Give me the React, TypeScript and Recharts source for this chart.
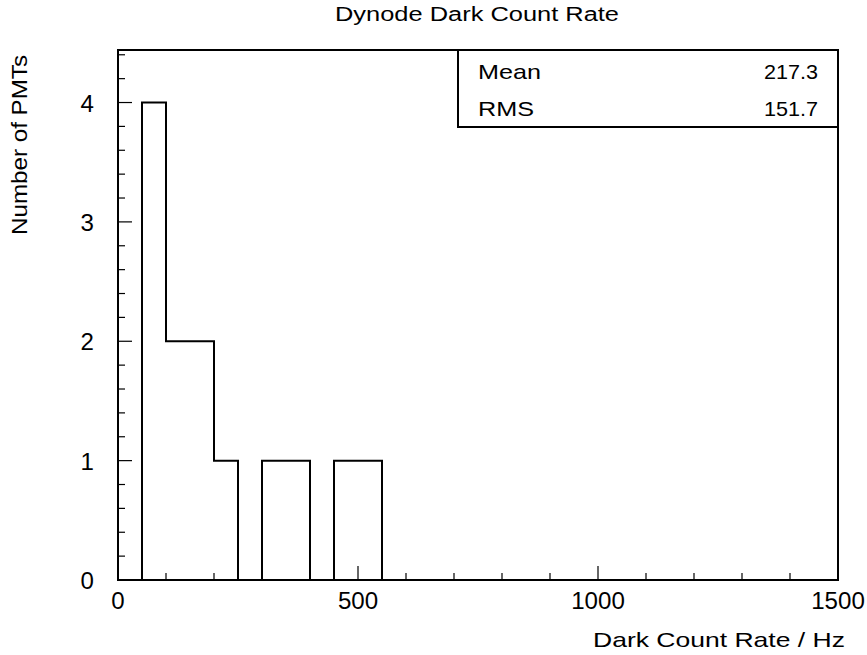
import React from "react";
import { ComposedChart, Line, XAxis, YAxis, ReferenceArea } from "recharts";

// Histogram bins (lower edges, width 50 Hz) and counts
const binLowEdges = [0, 50, 100, 150, 200, 250, 300, 350, 400, 450, 500, 550];
const binCounts = [0, 4, 2, 2, 1, 0, 1, 1, 0, 1, 1, 0];
const xMax = 1500;
const yMax = 4.44;

const xTicks = [0, 100, 200, 300, 400, 500, 600, 700, 800, 900, 1000, 1100, 1200, 1300, 1400, 1500];
const xMajor = [0, 500, 1000, 1500];
const yTicks = [0, 0.2, 0.4, 0.6, 0.8, 1, 1.2, 1.4, 1.6, 1.8, 2, 2.2, 2.4, 2.6, 2.8, 3, 3.2, 3.4, 3.6, 3.8, 4, 4.2, 4.4];
const yMajor = [0, 1, 2, 3, 4];

const title = "Dynode Dark Count Rate";
const xTitle = "Dark Count Rate / Hz";
const yTitle = "Number of PMTs";
const statNames = ["Mean", "RMS"];
const statValues = ["217.3", "151.7"];

const data = [
  ...binLowEdges.map((x, i) => ({ x, y: binCounts[i] })),
  { x: xMax, y: 0 },
];

const FONT = "'Liberation Sans', Arial, Helvetica, sans-serif";
const DIGIT_W = 13.4;

function XTick(props: any) {
  const { x, y, payload } = props;
  const v = payload.value;
  const major = xMajor.includes(v);
  const label = String(v);
  return (
    <g>
      <line x1={x} y1={y} x2={x} y2={y - (major ? 14 : 7)} stroke="#000" strokeWidth={1.2} />
      {major && (
        <text
          x={x}
          y={y + 29}
          textAnchor="middle"
          fontSize={23}
          fontFamily={FONT}
          fill="#000"
          textLength={label.length * DIGIT_W}
          lengthAdjust="spacingAndGlyphs"
        >
          {label}
        </text>
      )}
    </g>
  );
}

function YTick(props: any) {
  const { x, y, payload } = props;
  const v = Math.round(payload.value * 10) / 10;
  const major = yMajor.includes(v);
  const label = String(v);
  return (
    <g>
      <line x1={x} y1={y} x2={x + (major ? 14 : 7)} y2={y} stroke="#000" strokeWidth={1.2} />
      {major && (
        <text
          x={x - 24}
          y={y + 9}
          textAnchor="end"
          fontSize={23}
          fontFamily={FONT}
          fill="#000"
          textLength={label.length * DIGIT_W}
          lengthAdjust="spacingAndGlyphs"
        >
          {label}
        </text>
      )}
    </g>
  );
}

export default function App() {
  return (
    <div style={{ position: "absolute", left: 0, top: 0, width: 867, height: 655, background: "#fff" }}>
      <ComposedChart
        width={867}
        height={655}
        data={data}
        margin={{ top: 50, right: 29, bottom: 35, left: 58 }}
        style={{ position: "absolute", left: 0, top: 0 }}
      >
        <XAxis
          dataKey="x"
          type="number"
          domain={[0, xMax]}
          ticks={xTicks}
          interval={0}
          allowDataOverflow
          height={40}
          tickSize={0}
          tickMargin={0}
          axisLine={false}
          tickLine={false}
          tick={<XTick />}
        />
        <YAxis
          type="number"
          domain={[0, yMax]}
          ticks={yTicks}
          interval={0}
          allowDataOverflow
          width={60}
          tickSize={0}
          tickMargin={0}
          axisLine={false}
          tickLine={false}
          tick={<YTick />}
        />
        <Line
          dataKey="y"
          type="stepAfter"
          stroke="#000"
          strokeWidth={2}
          dot={false}
          activeDot={false}
          isAnimationActive={false}
        />
        <ReferenceArea
          x1={0}
          x2={xMax}
          y1={0}
          y2={yMax}
          fill="none"
          fillOpacity={0}
          stroke="#000"
          strokeWidth={2}
          ifOverflow="visible"
        />
      </ComposedChart>
      <svg
        width={867}
        height={655}
        style={{ position: "absolute", left: 0, top: 0, pointerEvents: "none" }}
      >
        <text x={335} y={21} fontSize={20} fontFamily={FONT} fill="#000" textLength={284} lengthAdjust="spacingAndGlyphs">
          {title}
        </text>
        <text x={593} y={647} fontSize={21} fontFamily={FONT} fill="#000" textLength={252} lengthAdjust="spacingAndGlyphs">
          {xTitle}
        </text>
        <text
          x={0}
          y={0}
          transform="translate(27,235) rotate(-90)"
          fontSize={22}
          fontFamily={FONT}
          fill="#000"
          textLength={180}
          lengthAdjust="spacingAndGlyphs"
        >
          {yTitle}
        </text>
        <rect x={458} y={50} width={380} height={77} fill="#fff" stroke="#000" strokeWidth={2} />
        <text x={478} y={79} fontSize={21} fontFamily={FONT} fill="#000" textLength={63} lengthAdjust="spacingAndGlyphs">
          {statNames[0]}
        </text>
        <text x={818} y={79} textAnchor="end" fontSize={21} fontFamily={FONT} fill="#000" textLength={54} lengthAdjust="spacingAndGlyphs">
          {statValues[0]}
        </text>
        <text x={478} y={116} fontSize={21} fontFamily={FONT} fill="#000" textLength={56} lengthAdjust="spacingAndGlyphs">
          {statNames[1]}
        </text>
        <text x={818} y={116} textAnchor="end" fontSize={21} fontFamily={FONT} fill="#000" textLength={54} lengthAdjust="spacingAndGlyphs">
          {statValues[1]}
        </text>
      </svg>
    </div>
  );
}
